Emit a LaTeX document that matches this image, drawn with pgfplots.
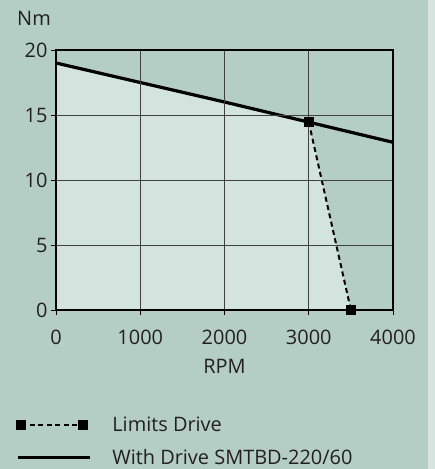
\documentclass[border=0pt]{standalone}
\usepackage{pgfplots}
\pgfplotsset{compat=1.18}
\usepackage{fontspec}
\setmainfont{Open Sans}
\definecolor{bg}{HTML}{B4CEC5}
\definecolor{fillarea}{HTML}{D3E3DD}
\definecolor{strip}{HTML}{D5E4DE}
\definecolor{txt}{HTML}{231F20}
\newcommand{\fs}{\fontsize{20}{23}\selectfont}
\pgfplotsset{
	marklegend/.style={legend image code/.code={\draw[##1] plot coordinates {(3.5bp,0bp) (65.5bp,0bp)};}},
	linelegend/.style={legend image code/.code={\draw[##1] (0bp,0bp) -- (72bp,0bp);}},
}

\begin{document}
\begin{tikzpicture}
% page background, axis box starts at (0,0)
\fill[bg] (-56bp,-159bp) rectangle (379bp,310bp);
\fill[strip] (372bp,-159bp) rectangle (379bp,310bp);
\begin{axis}[
	axis on top,
	scale only axis,
	width=337bp, height=260bp,
	xmin=0, xmax=4000,
	ymin=0, ymax=20,
	xtick={0,1000,2000,3000,4000},
	ytick={0,5,10,15,20},
	xtick pos=left, ytick pos=left,
	tick align=outside,
	major tick length=5bp,
	tick style={black, line width=0.8pt},
	grid=major,
	major grid style={line width=0.8pt, color=black!75},
	axis line style={line width=1.2pt, black},
	scaled x ticks=false,
	/pgf/number format/1000 sep={},
	/pgf/number format/assume math mode=true,
	tick label style={font=\fs, color=txt},
	xticklabel style={yshift=-12bp},
	xlabel={RPM},
	ylabel={Nm},
	every axis x label/.style={at={(axis description cs:0.5,0)}, anchor=base, yshift=-63bp, font=\fs, color=txt},
	every axis y label/.style={at={(axis description cs:0,1)}, anchor=base east, inner sep=0pt, xshift=-5bp, yshift=24bp, font=\fs, color=txt},
	legend style={draw=none, fill=none, font=\fs, text=txt,
		at={(axis description cs:0,0)}, anchor=north west,
		xshift=-43bp, yshift=-103bp, row sep=12bp, column sep=19bp},
	legend cell align=left,
	]
	% shaded operating area
	\addplot[fill=fillarea, draw=none, forget plot]
	coordinates {(0,19) (3000,14.45) (3500,0)} \closedcycle;
	
	\addplot[
	color=black,
	line width=2bp,
	dash pattern=on 5bp off 3.5bp,
	mark=square*,
	mark size=4bp,
	mark options={solid},
	marklegend,
	]
	coordinates {
		(3000,14.45)
		(3500,0)
	};
	\addlegendentry{Limits Drive}
	
	\addplot[
	color=black,
	line width=3.2bp,
	linelegend,
	]
	coordinates {
		(0,19)
		(1000,17.5)
		(2000,16)
		(3000,14.45)
		(4000,12.9)
	};
	\addlegendentry{With Drive SMTBD-220/60}
\end{axis}
\pgfresetboundingbox
\path[use as bounding box] (-56bp,-159bp) rectangle (379bp,310bp);
\end{tikzpicture}
\end{document}
